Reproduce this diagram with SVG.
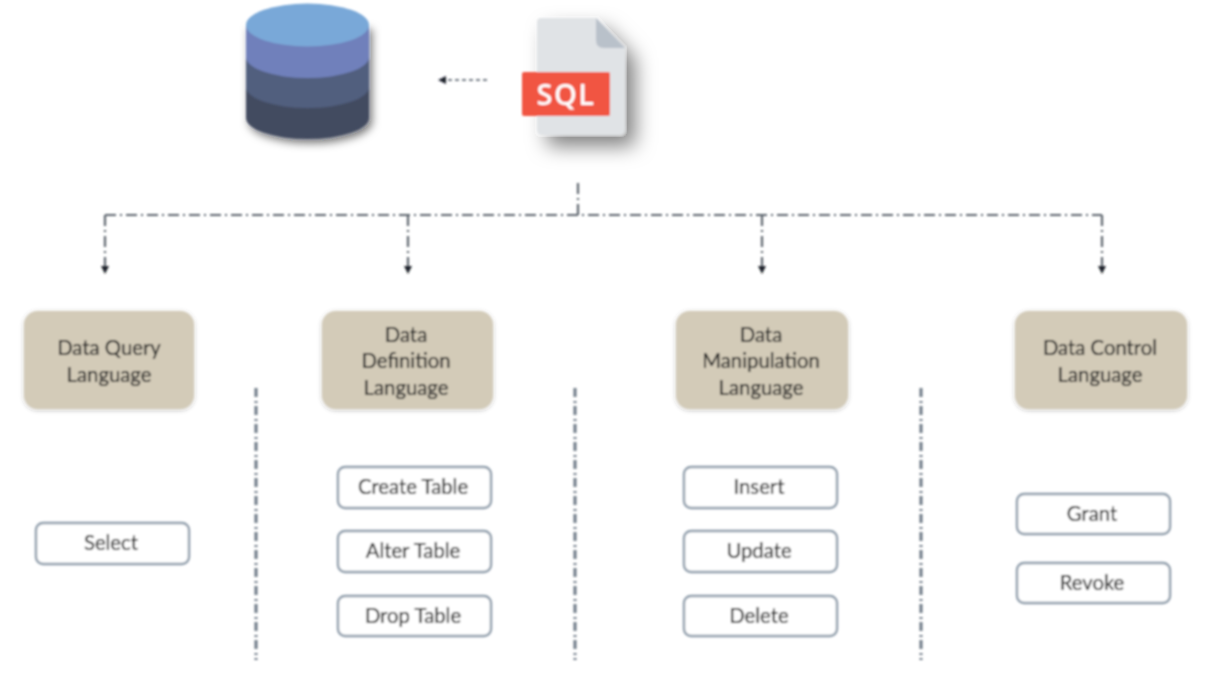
<svg xmlns="http://www.w3.org/2000/svg" width="1214" height="674" viewBox="0 0 1214 674">
<style>
text{font-family:Lato,"Open Sans","Liberation Sans",sans-serif;fill:#222;stroke:#222;stroke-width:.2;font-size:20.3px;text-anchor:middle}
.cat rect{fill:#d3cbb8;filter:url(#s1)}
.item rect{fill:#fff;stroke:#8f9dab;stroke-width:2.4}
.c{fill:none;stroke:#5c656d;stroke-width:2.2;stroke-dasharray:11 4 2 4}
.d{fill:none;stroke:#6d7885;stroke-width:3;stroke-dasharray:9 4 2 3}
.soft{filter:url(#b)}
</style>
<defs>
<filter id="b" x="-40%" y="-40%" width="180%" height="180%"><feGaussianBlur stdDeviation="0.8"/></filter>
<filter id="s1" x="-10%" y="-15%" width="120%" height="130%"><feDropShadow dx="0" dy="1" stdDeviation="2" flood-color="#000" flood-opacity="0.3"/></filter>
<filter id="s2" x="-40%" y="-40%" width="200%" height="200%"><feDropShadow dx="10" dy="11" stdDeviation="10" flood-color="#000" flood-opacity="0.5"/></filter>
<filter id="s3" x="-30%" y="-30%" width="160%" height="160%"><feDropShadow dx="3" dy="4" stdDeviation="4.500" flood-color="#000" flood-opacity="0.55"/></filter>
<marker id="a" markerWidth="10" markerHeight="10" refX="5" refY="5" orient="auto" markerUnits="userSpaceOnUse"><path d="M1 1L9 5L1 9Z" fill="#1f232a"/></marker>
</defs>
<g id="connectors" class="soft">
<path class="c" d="M578 183V215"/>
<path class="c" d="M105 215H1102"/>
<path class="c" d="M105 215V270" marker-end="url(#a)"/>
<path class="c" d="M408 215V270" marker-end="url(#a)"/>
<path class="c" d="M762 215V270" marker-end="url(#a)"/>
<path class="c" d="M1102 215V270" marker-end="url(#a)"/>
<path d="M487 80H442" fill="none" stroke="#4a5160" stroke-width="1.400" stroke-dasharray="4 3" marker-end="url(#a)"/>
<path class="d" d="M256 388V660"/>
<path class="d" d="M575 388V660"/>
<path class="d" d="M921 388V660"/>
</g>
<g id="database" class="soft">
<g filter="url(#s3)"><path d="M246 25V118A61.500 21 0 0 0 369 118V25Z" fill="#434b60"/></g>
<path d="M246 56V87A61.500 21 0 0 0 369 87V56Z" fill="#515e7e"/>
<path d="M246 25V57A61.500 21 0 0 0 369 57V25Z" fill="#7080bb"/>
<ellipse cx="307.500" cy="25" rx="61.500" ry="21.500" fill="#79a8d8"/>
</g>
<g id="sql-file" class="soft">
<path d="M541 18H596L625 48V129Q625 135 619 135H543Q537 135 537 129V22Q537 18 541 18Z" fill="#e0e3e6" filter="url(#s2)"/>
<path d="M596 18L625 48H604Q596 48 596 40Z" fill="#b9c1ca"/>
<rect x="522" y="72" width="88" height="44" rx="2" fill="#f15443"/>
<text x="566" y="105" style="fill:#fff;stroke:none;font-size:29px;font-weight:600;letter-spacing:1.500px;font-family:'Open Sans',sans-serif">SQL</text>
</g>
<g id="dql" class="cat soft"><rect x="24" y="311" width="170" height="98" rx="14"/><text x="109" y="355">Data Query</text><text x="109" y="382">Language</text></g>
<g id="ddl" class="cat soft"><rect x="322" y="311" width="171" height="98" rx="14"/><text x="406" y="342">Data</text><text x="406" y="368">Definition</text><text x="406" y="395">Language</text></g>
<g id="dml" class="cat soft"><rect x="676" y="311" width="172" height="98" rx="14"/><text x="761" y="342">Data</text><text x="761" y="368">Manipulation</text><text x="761" y="395">Language</text></g>
<g id="dcl" class="cat soft"><rect x="1015" y="311" width="172" height="98" rx="14"/><text x="1100" y="355">Data Control</text><text x="1100" y="382">Language</text></g>
<g id="select" class="item soft"><rect x="36" y="523" width="153" height="41" rx="7"/><text x="111" y="550">Select</text></g>
<g id="create-table" class="item soft"><rect x="338" y="467" width="153" height="41" rx="7"/><text x="413" y="494">Create Table</text></g>
<g id="alter-table" class="item soft"><rect x="338" y="531" width="153" height="41" rx="7"/><text x="413" y="558">Alter Table</text></g>
<g id="drop-table" class="item soft"><rect x="338" y="596" width="153" height="40" rx="7"/><text x="413" y="623">Drop Table</text></g>
<g id="insert" class="item soft"><rect x="684" y="467" width="153" height="41" rx="7"/><text x="759" y="494">Insert</text></g>
<g id="update" class="item soft"><rect x="684" y="531" width="153" height="41" rx="7"/><text x="759" y="558">Update</text></g>
<g id="delete" class="item soft"><rect x="684" y="596" width="153" height="40" rx="7"/><text x="759" y="623">Delete</text></g>
<g id="grant" class="item soft"><rect x="1017" y="494" width="153" height="40" rx="7"/><text x="1092" y="521">Grant</text></g>
<g id="revoke" class="item soft"><rect x="1017" y="563" width="153" height="40" rx="7"/><text x="1092" y="590">Revoke</text></g>
</svg>
